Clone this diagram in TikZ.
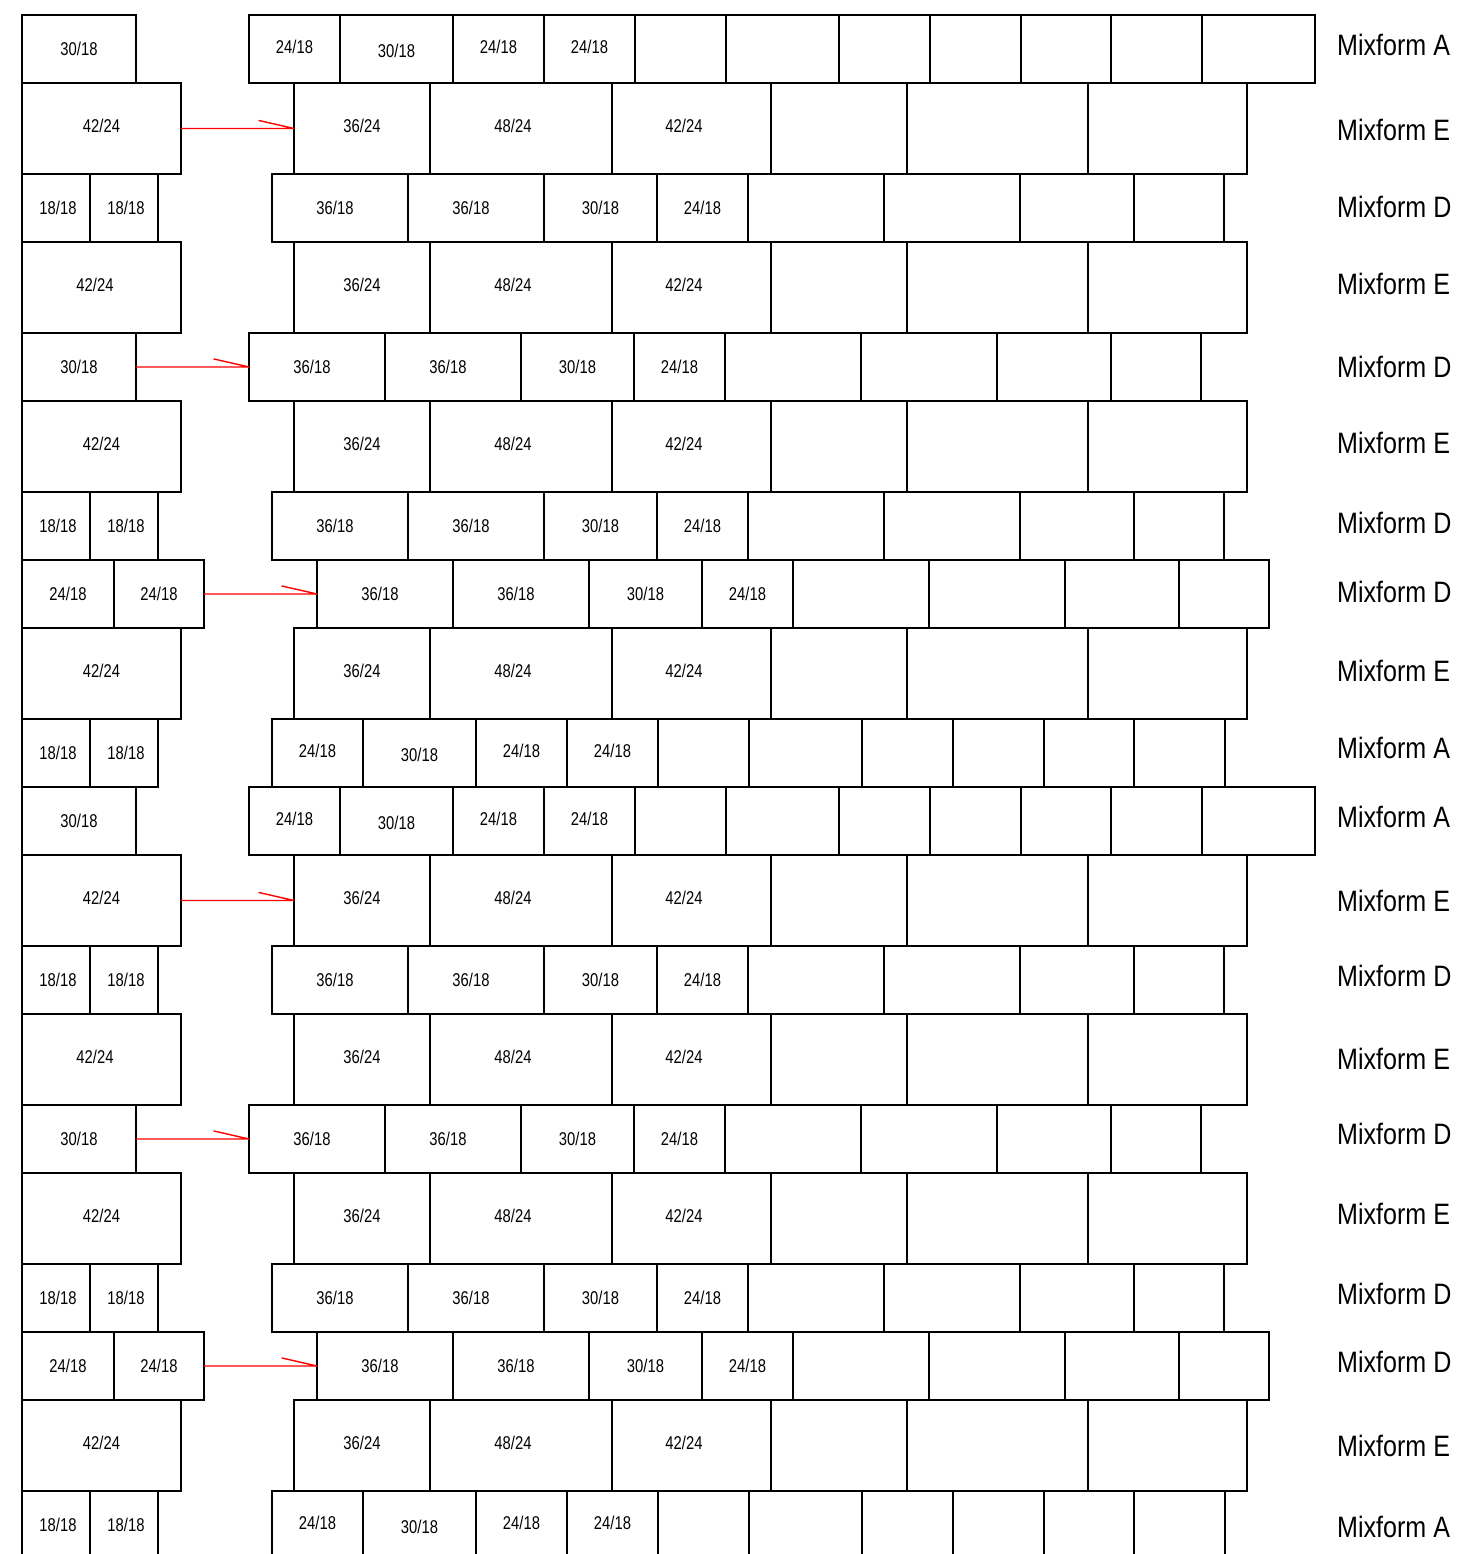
\documentclass[tikz,border=0pt]{standalone}
\usepackage{fontspec}
\setmainfont{Liberation Sans}
\newfontfamily\cellfont[FakeStretch=0.8]{Liberation Sans}
\newfontfamily\mixfont[FakeStretch=0.85]{Liberation Sans}
\usetikzlibrary{arrows.meta}
\newcommand\up[1]{\raisebox{1.8pt}{#1}}
\newcommand\upe[1]{\raisebox{3pt}{#1}}
\newcommand\dn[1]{\raisebox{-1.8pt}{#1}}
\newcommand\shl[2]{\hspace*{-#1pt}#2}
\newcommand\shr[2]{\hspace*{#1pt}#2}
% name, top, height, dx, list macro of x0/x1/label
\newcommand\cellrow[5]{%
  \foreach \xa/\xb/\lab [count=\ci] in #5 {
    \node[cell, minimum width={(\xb-\xa)*1pt}, minimum height=#3pt] (#1c\ci) at ({\xa+(#4)},#2) {\lab};
  }%
}
\begin{document}
\begin{tikzpicture}[x=1pt,y=-1pt,
  cell/.style={draw, line width=2.8pt, rectangle, inner sep=0pt, outer sep=0pt,
    anchor=north west, text height=13.2pt, text depth=0pt,
    font=\cellfont\fontsize{18.5}{20}\selectfont},
  mixlabel/.style={anchor=west, inner sep=0pt, text height=20.8pt, text depth=0pt,
    font=\mixfont\fontsize{29.5}{32}\selectfont},
  feed/.style={draw=red, line width=1.4pt, line join=round, line cap=round}
]
\clip (0,0) rectangle (1458,1554);
\def\Lthirty{22/136/{30/18}}
\def\Lfortytwo{22/181/{\upe{42/24}}}
\def\Lfortytwob{22/181/{\upe{\shl{13}{42/24}}}}
\def\Leighteen{22/90/{\shr{4}{18/18}}, 90/158/{\shr{4}{18/18}}}
\def\Ltwentyfour{22/114/{24/18}, 114/204/{24/18}}
\def\RA{249/340/{\up{24/18}}, 340/453/{\dn{30/18}}, 453/544/{\up{24/18}}, 544/635/{\up{24/18}}, 635/726/{}, 726/839/{}, 839/930/{}, 930/1021/{}, 1021/1111/{}, 1111/1202/{}, 1202/1315/{}}
\def\RAs{249/340/{\up{24/18}}, 340/453/{\dn{30/18}}, 453/544/{\up{24/18}}, 544/635/{\up{24/18}}, 635/726/{}, 726/839/{}, 839/930/{}, 930/1021/{}, 1021/1111/{}, 1111/1202/{}}
\def\RE{294/430/{\upe{36/24}}, 430/612/{\upe{\shl{16}{48/24}}}, 612/771/{\upe{\shl{15}{42/24}}}, 771/907/{}, 907/1088/{}, 1088/1247/{}}
\def\RD{272/408/{\shl{10}{36/18}}, 408/544/{\shl{10}{36/18}}, 544/657/{30/18}, 657/748/{24/18}, 748/884/{}, 884/1020/{}, 1020/1134/{}, 1134/1224/{}}
\foreach \b/\off in {1/0, 2/772} {
  \begin{scope}[shift={(0,\off)}]
    % row 1: Mixform A
    \cellrow{b\b r1L}{15}{68}{0}{\Lthirty}
    \cellrow{b\b r1R}{15}{68}{0}{\RA}
    % row 2: Mixform E
    \cellrow{b\b r2L}{83}{91}{0}{\Lfortytwo}
    \cellrow{b\b r2R}{83}{91}{0}{\RE}
    \draw[feed] (b\b r2Lc1.east) -- (b\b r2Rc1.west) -- ++(-35,-8);
    % row 3: Mixform D
    \cellrow{b\b r3L}{174}{68}{0}{\Leighteen}
    \cellrow{b\b r3R}{174}{68}{0}{\RD}
    % row 4: Mixform E
    \cellrow{b\b r4L}{242}{91}{0}{\Lfortytwob}
    \cellrow{b\b r4R}{242}{91}{0}{\RE}
    % row 5: Mixform D
    \cellrow{b\b r5L}{333}{68}{0}{\Lthirty}
    \cellrow{b\b r5R}{333}{68}{-23}{\RD}
    \draw[feed] (b\b r5Lc1.east) -- (b\b r5Rc1.west) -- ++(-35,-8);
    % row 6: Mixform E
    \cellrow{b\b r6L}{401}{91}{0}{\Lfortytwo}
    \cellrow{b\b r6R}{401}{91}{0}{\RE}
    % row 7: Mixform D
    \cellrow{b\b r7L}{492}{68}{0}{\Leighteen}
    \cellrow{b\b r7R}{492}{68}{0}{\RD}
    % row 8: Mixform D
    \cellrow{b\b r8L}{560}{68}{0}{\Ltwentyfour}
    \cellrow{b\b r8R}{560}{68}{45}{\RD}
    \draw[feed] (b\b r8Lc2.east) -- (b\b r8Rc1.west) -- ++(-35,-8);
    % row 9: Mixform E
    \cellrow{b\b r9L}{628}{91}{0}{\Lfortytwo}
    \cellrow{b\b r9R}{628}{91}{0}{\RE}
    % row 10: Mixform A
    \cellrow{b\b r10L}{719}{68}{0}{\Leighteen}
    \cellrow{b\b r10R}{719}{68}{23}{\RAs}
  \end{scope}
}
\foreach \yy/\ff [count=\k] in {45/A, 130/E, 207/D, 284/E, 367/D, 443/E, 523/D, 592/D, 671/E, 748/A,
  817/A, 901/E, 976/D, 1059/E, 1134/D, 1214/E, 1294/D, 1362/D, 1446/E, 1527/A} {
  \node[mixlabel] (mix\k) at (1337,\yy) {Mixform \ff};
}
\end{tikzpicture}
\end{document}
